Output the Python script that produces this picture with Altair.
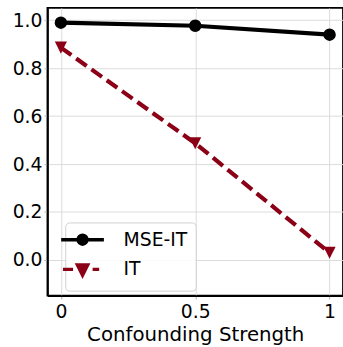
import altair as alt
import pandas as pd

strength = [0, 0.5, 1]
mse_it = [0.99, 0.977, 0.94]
it_vals = [0.886, 0.487, 0.03]
series_names = ["MSE-IT", "IT"]
series_colors = ["#000000", "#8b0016"]
x_ticks = [0, 0.5, 1]
y_ticks = [0.0, 0.2, 0.4, 0.6, 0.8, 1.0]

FONT = "DejaVu Sans"

df = pd.DataFrame({
    "strength": strength * 2,
    "value": mse_it + it_vals,
    "series": ["MSE-IT"] * len(strength) + ["IT"] * len(strength),
})

x_enc = alt.X("strength:Q",
              scale=alt.Scale(domain=[-0.05, 1.05], nice=False, zero=False),
              axis=alt.Axis(values=x_ticks, format="~g", title="Confounding Strength"))
y_enc = alt.Y("value:Q",
              scale=alt.Scale(domain=[-0.1485, 1.0515], nice=False, zero=False),
              axis=alt.Axis(values=y_ticks, format=".1f", title=None))

base = alt.Chart(df)

mse_line = base.transform_filter(alt.datum.series == "MSE-IT").mark_line(
    color=series_colors[0], strokeWidth=4.2).encode(x=x_enc, y=y_enc)
mse_pts = base.transform_filter(alt.datum.series == "MSE-IT").mark_point(
    shape="circle", filled=True, opacity=1, color=series_colors[0], size=160).encode(x=x_enc, y=y_enc)

it_line = base.transform_filter(alt.datum.series == "IT").mark_line(
    color=series_colors[1], strokeWidth=4.2, strokeDash=[13, 6]).encode(x=x_enc, y=y_enc)
it_pts = base.transform_filter(alt.datum.series == "IT").mark_point(
    shape="M-1,-1L1,-1L0,1Z", filled=True, opacity=1, color=series_colors[1], size=150).encode(x=x_enc, y=y_enc)

# legend-only layer (no rendered data), symbols drawn as line + marker paths
circle_path = "M-3.6,0H3.6M0.75,0A0.75,0.75,0,1,1,-0.75,0A0.75,0.75,0,1,1,0.75,0Z"
tri_path = "M-3.3,0H-1.6M1.7,0H2.8M-0.85,-0.75L0.85,-0.75L0,0.95Z"
leg = alt.Legend(title=None, orient="none", legendX=18, legendY=217)
legend_layer = base.transform_filter("false").mark_point(
    filled=True, opacity=1, size=144, strokeWidth=3.5).encode(
    x=x_enc, y=y_enc,
    fill=alt.Fill("series:N", scale=alt.Scale(domain=series_names, range=series_colors), legend=leg),
    stroke=alt.Stroke("series:N", scale=alt.Scale(domain=series_names, range=series_colors), legend=leg),
    shape=alt.Shape("series:N", scale=alt.Scale(domain=series_names, range=[circle_path, tri_path]), legend=leg),
)

chart = alt.layer(it_line, mse_line, it_pts, mse_pts, legend_layer).properties(
    width=299, height=291,
    autosize=alt.AutoSizeParams(type="none"),
    padding={"left": 48, "top": 6, "right": 0, "bottom": 50},
).configure_view(
    stroke="black", strokeWidth=1.8
).configure_axis(
    labelFont=FONT, labelFontSize=19, labelColor="black",
    titleFont=FONT, titleFontSize=20, titleFontWeight="normal", titleColor="black",
    domainColor="black", domainWidth=1.8,
    tickColor="#b0b0b0", tickSize=3.5, tickWidth=1,
    gridColor="#dcdcdc", gridWidth=1, labelPadding=2,
).configure_axisY(
    labelPadding=2,
).configure_axisX(
    labelPadding=4, titlePadding=3,
).configure_legend(
    labelFont=FONT, labelFontSize=19, labelColor="black",
    fillColor="rgba(255,255,255,0.85)", strokeColor="#d0d0d0", cornerRadius=4,
    padding=8, rowPadding=7, labelOffset=32,
    symbolSize=144, symbolStrokeWidth=3.5,
)

chart.save("out.html", embed_options={"renderer": "svg", "actions": False})
